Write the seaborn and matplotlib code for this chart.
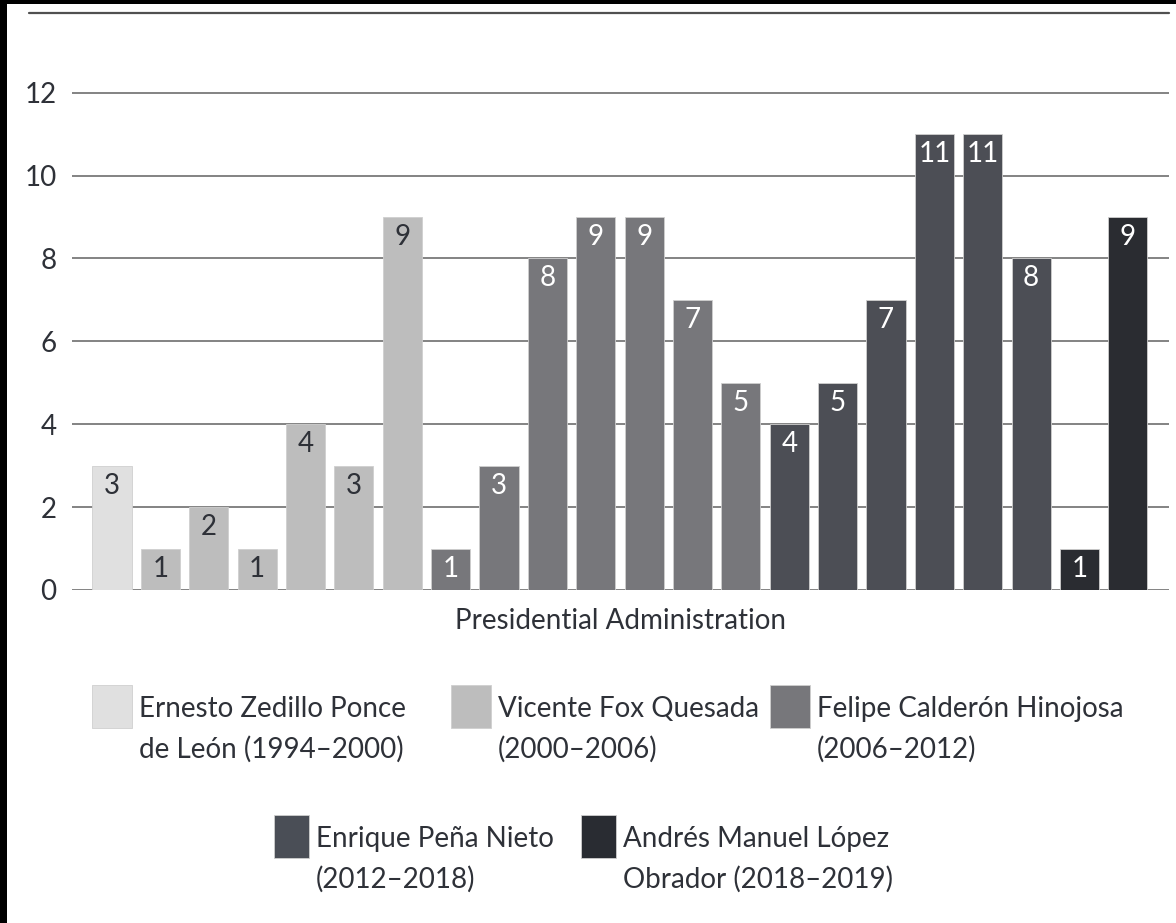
import pandas as pd
import matplotlib.pyplot as plt
from matplotlib.patches import Rectangle
from matplotlib.lines import Line2D
import seaborn as sns

# bar values, in order, with the administration each one belongs to
counts = [3, 1, 2, 1, 4, 3, 9, 1, 3, 8, 9, 9, 7, 5, 4, 5, 7, 11, 11, 8, 1, 9]
admins = (["Zedillo"] * 1 + ["Fox"] * 6 + ["Calderón"] * 7
          + ["Peña Nieto"] * 6 + ["López Obrador"] * 2)
bar_ids = [str(i + 1) for i in range(len(counts))]

admin_order = ["Zedillo", "Fox", "Calderón", "Peña Nieto", "López Obrador"]
admin_labels = ["Ernesto Zedillo Ponce\nde León (1994–2000)",
                "Vicente Fox Quesada\n(2000–2006)",
                "Felipe Calderón Hinojosa\n(2006–2012)",
                "Enrique Peña Nieto\n(2012–2018)",
                "Andrés Manuel López\nObrador (2018–2019)"]
colors = ["#e0e0e0", "#bdbdbd", "#77777b", "#4a4e56", "#292c32"]
label_colors = ["#2e3138", "#2e3138", "white", "white", "white"]

df = pd.DataFrame({"bar": bar_ids, "count": counts, "admin": admins})

sns.set_style("white")
plt.rcParams["font.family"] = ["Lato", "DejaVu Sans"]
TXT = "#2e3138"
FS = 20

W, H = 1176, 923
fig = plt.figure(figsize=(W / 100, H / 100), dpi=100)


def fx(x):
    return x / W


def fy(y):
    return 1 - y / H


ax = fig.add_axes([fx(72), fy(590), fx(1169) - fx(72), fy(72) - fy(590)])

sns.barplot(data=df, x="bar", y="count", hue="admin", order=bar_ids,
            hue_order=admin_order, palette=dict(zip(admin_order, colors)),
            dodge=False, width=0.81, legend=False, ax=ax,
            edgecolor="#cfcfcf", linewidth=0.6, zorder=3)

ax.set_xlim(-0.827, 21.85)
ax.set_ylim(0, 12.5)
ax.set_yticks(range(0, 13, 2))
ax.yaxis.grid(True, color="#6e6e6e", linewidth=1.2, zorder=0)
ax.set_axisbelow(True)
ax.tick_params(axis="y", length=0, pad=11, labelsize=FS, labelcolor=TXT)
ax.set_xticks([])
ax.set_ylabel("")
ax.set_xlabel("Presidential Administration", fontsize=FS, color=TXT, labelpad=13)
for s in ax.spines.values():
    s.set_visible(False)

# value labels inside the top of each bar
lab_col = dict(zip(admin_order, label_colors))
for p, val, adm in zip(sorted(ax.patches, key=lambda r: r.get_x()), counts, admins):
    ax.annotate(str(val), (p.get_x() + p.get_width() / 2, p.get_height()),
                xytext=(0, -5), textcoords="offset points", ha="center", va="top",
                fontsize=FS, color=lab_col[adm], zorder=4)

# legend, drawn by hand: three entries then two centred
legend_pos = [(92, 685, 40), (451, 685, 40), (770, 685, 40), (274, 815, 35), (581, 815, 35)]
for (x, y, w), c, lab in zip(legend_pos, colors, admin_labels):
    fig.add_artist(Rectangle((fx(x), fy(y + 43)), fx(w), 43 / H,
                             transform=fig.transFigure, facecolor=c,
                             edgecolor="#cfcfcf", linewidth=0.6))
    fig.text(fx(x + w + 7), fy(y + 11), lab, ha="left", va="top", fontsize=FS,
             color=TXT, linespacing=1.65)

# black frame strips and the top rule
fig.add_artist(Rectangle((0, 0), fx(7), 1, transform=fig.transFigure,
                         facecolor="black", edgecolor="none"))
fig.add_artist(Rectangle((0, fy(4)), 1, 4 / H, transform=fig.transFigure,
                         facecolor="black", edgecolor="none"))
fig.add_artist(Line2D([fx(29), fx(1169)], [fy(12.5), fy(12.5)],
                      transform=fig.transFigure, color="#505050", linewidth=1.6))

fig.savefig("out.png", dpi=100)
